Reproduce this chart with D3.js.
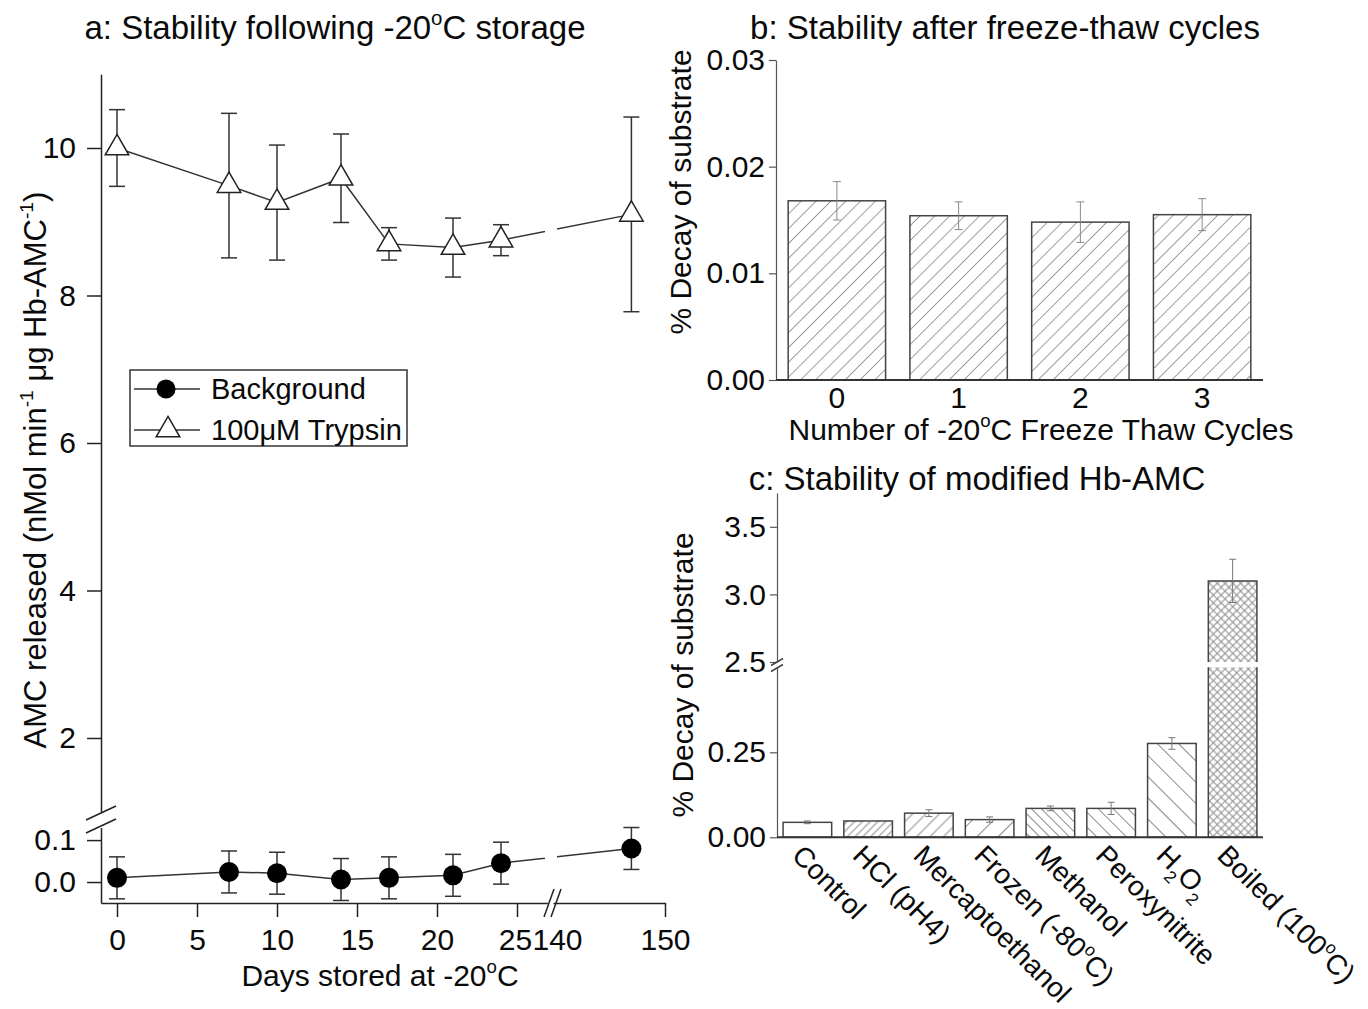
<!DOCTYPE html>
<html>
<head>
<meta charset="utf-8">
<script src="https://cdn.jsdelivr.net/npm/d3@7"></script>
<style>
  body { margin: 0; background: #fff; }
  svg { display: block; font-family: "Liberation Sans", Arial, Helvetica, sans-serif; }
</style>
</head>
<body>
<svg id="chart" width="1368" height="1009"></svg>
<script>
// ---- Panel a: activity after storage at -20 °C ----
const days = [0, 7, 10, 14, 17, 21, 24, 147];
const trypsinMean = [10.0, 9.49, 9.26, 9.59, 8.70, 8.65, 8.75, 9.10];
const trypsinErr = [0.52, 0.98, 0.78, 0.60, 0.22, 0.40, 0.21, 1.32];
const backgroundMean = [0.010, 0.024, 0.021, 0.006, 0.010, 0.016, 0.045, 0.080];
const backgroundErr = [0.050, 0.050, 0.050, 0.050, 0.050, 0.050, 0.050, 0.050];
const dayTicksLeft = [0, 5, 10, 15, 20, 25];
const dayTicksRight = [140, 150];
const amcTicksUpper = [2, 4, 6, 8, 10];
const amcTicksLower = [0.0, 0.1];
const seriesNames = ["Background", "100\u03BCM Trypsin"];

// ---- Panel b: freeze-thaw cycles ----
const cycles = ["0", "1", "2", "3"];
const cycleDecay = [0.0168, 0.0154, 0.0148, 0.0155];
const cycleErr = [0.0018, 0.0013, 0.0019, 0.0015];
const cycleTicks = [0, 0.01, 0.02, 0.03];

// ---- Panel c: modified substrate ----
const treatments = ["Control", "HCl (pH4)", "Mercaptoethanol", "Frozen (-80^oC)",
                    "Methanol", "Peroxynitrite", "H_2O_2", "Boiled (100^oC)"];
const treatmentDecay = [0.044, 0.048, 0.071, 0.052, 0.085, 0.085, 0.276, 3.10];
const treatmentErr = [0.004, 0.001, 0.010, 0.008, 0.007, 0.018, 0.017, 0.16];
const decayTicksLower = [0, 0.25];
const decayTicksUpper = [2.5, 3.0, 3.5];

// hatch style per treatment bar
const treatmentHatch = [
  null,
  { angle: 45, gap: 5.5 },
  { angle: 45, gap: 9.5 },
  { angle: 45, gap: 15 },
  { angle: -45, gap: 7 },
  { angle: -45, gap: 10.5 },
  { angle: -45, gap: 15 },
  { angle: 45, gap: 5.5, cross: true }
];

const svg = d3.select("#chart");
const defs = svg.append("defs");
const INK = "#0a0a0a";
const FS = 30;

// text with ^x / _x (or ^{..} / _{..}) super- and subscripts
function rich(sel, str, size) {
  const re = /([\^_])(\{[^}]*\}|.)/g;
  let last = 0, m, off = 0;
  const parts = [];
  while ((m = re.exec(str))) {
    if (m.index > last) parts.push({ t: str.slice(last, m.index), k: 0 });
    let c = m[2];
    if (c[0] === "{") c = c.slice(1, -1);
    parts.push({ t: c, k: m[1] === "^" ? 1 : -1 });
    last = re.lastIndex;
  }
  if (last < str.length) parts.push({ t: str.slice(last), k: 0 });
  parts.forEach(p => {
    const target = p.k === 1 ? -0.42 * size : p.k === -1 ? 0.33 * size : 0;
    const ts = sel.append("tspan").attr("dy", target - off).text(p.t);
    if (p.k) ts.attr("font-size", size * 0.62);
    off = target;
  });
  return sel;
}

function label(g, x, y, str, size, anchor, rotate) {
  const t = g.append("text")
    .attr("transform", `translate(${x},${y})` + (rotate ? ` rotate(${rotate})` : ""))
    .attr("font-size", size).attr("fill", INK)
    .attr("text-anchor", anchor || "middle");
  return rich(t, str, size);
}

function styleAxis(g, color, width, size) {
  g.select(".domain").attr("stroke", color).attr("stroke-width", width);
  g.selectAll(".tick line").attr("stroke", color).attr("stroke-width", width);
  g.selectAll(".tick text").attr("font-size", size).attr("fill", INK)
    .attr("font-family", null);
  g.attr("font-family", null);
}

function hatch(id, spec, color) {
  const p = defs.append("pattern").attr("id", id)
    .attr("patternUnits", "userSpaceOnUse")
    .attr("width", spec.gap).attr("height", spec.gap)
    .attr("patternTransform", `rotate(${spec.angle})`);
  p.append("rect").attr("width", spec.gap).attr("height", spec.gap).attr("fill", "#fff");
  p.append("line").attr("x1", spec.gap / 2).attr("x2", spec.gap / 2)
    .attr("y1", 0).attr("y2", spec.gap).attr("stroke", color).attr("stroke-width", 1);
  if (spec.cross) {
    p.append("line").attr("y1", spec.gap / 2).attr("y2", spec.gap / 2)
      .attr("x1", 0).attr("x2", spec.gap).attr("stroke", color).attr("stroke-width", 1);
  }
}

function breakMarks(g, pts, dx, dy, color) {
  pts.forEach(([cx, cy]) => {
    g.append("line").attr("x1", cx - dx).attr("y1", cy + dy)
      .attr("x2", cx + dx).attr("y2", cy - dy)
      .attr("stroke", color).attr("stroke-width", 1.5);
  });
}

// vertical error bars with caps; lo/hi are pixel positions
function errorBars(g, xs, lo, hi, cap, color, width) {
  xs.forEach((x, i) => {
    const y0 = lo[i], y1 = hi[i];
    g.append("line").attr("x1", x).attr("x2", x).attr("y1", y0).attr("y2", y1)
      .attr("stroke", color).attr("stroke-width", width);
    [y0, y1].forEach(y => g.append("line").attr("x1", x - cap / 2).attr("x2", x + cap / 2)
      .attr("y1", y).attr("y2", y).attr("stroke", color).attr("stroke-width", width));
  });
}

// =================== Panel a ===================
const gA = svg.append("g");
const AX = 101, AY = 903;
const xA1 = d3.scaleLinear().domain([-1, 26.9]).range([AX, 547.4]);
const xA2 = d3.scaleLinear().domain([140, 150]).range([553, 665]);
const xA = d => (d < 100 ? xA1(d) : xA2(d));
const yUp = d3.scaleLinear().domain([1, 11]).range([811.75, 74.25]);
const yLo = d3.scaleLinear().domain([-0.05, 0.13]).range([AY, 827.5]);

const aColor = "#222";
const ayU = gA.append("g").attr("transform", `translate(${AX},0)`)
  .call(d3.axisLeft(yUp).tickValues(amcTicksUpper).tickSize(14).tickSizeOuter(0)
    .tickPadding(11).tickFormat(d3.format("d")));
styleAxis(ayU, aColor, 1.5, FS);
const ayL = gA.append("g").attr("transform", `translate(${AX},0)`)
  .call(d3.axisLeft(yLo).tickValues(amcTicksLower).tickSize(14).tickSizeOuter(0)
    .tickPadding(11).tickFormat(d3.format(".1f")));
styleAxis(ayL, aColor, 1.5, FS);

const ax1 = gA.append("g").attr("transform", `translate(0,${AY})`)
  .call(d3.axisBottom(xA1).tickValues(dayTicksLeft).tickSize(14).tickSizeOuter(0)
    .tickPadding(12));
styleAxis(ax1, aColor, 1.5, FS);
ax1.selectAll(".tick").filter(d => d === 25).select("text").attr("dx", -2);
const ax2 = gA.append("g").attr("transform", `translate(0,${AY})`)
  .call(d3.axisBottom(xA2).tickValues(dayTicksRight).tickSize(14).tickSizeOuter(0)
    .tickPadding(12));
styleAxis(ax2, aColor, 1.5, FS);
const t140 = ax2.selectAll(".tick").filter(d => d === 140);
t140.select("line").remove();
t140.select("text").attr("dx", 4);

breakMarks(gA, [[AX, 813], [AX, 826]], 15, 7, aColor);
breakMarks(gA, [[549, AY], [556, AY]], 5, 14, aColor);

// series lines, interrupted where the day axis is broken
const clipDefs = [["clipLeft", 0, 545], ["clipRight", 557, 1368]];
clipDefs.forEach(([id, x0, x1]) => {
  defs.append("clipPath").attr("id", id).append("rect")
    .attr("x", x0).attr("y", 0).attr("width", x1 - x0).attr("height", 1009);
});
const lineUp = d3.line().x((d, i) => xA(days[i])).y(d => yUp(d));
const lineLo = d3.line().x((d, i) => xA(days[i])).y(d => yLo(d));
clipDefs.forEach(([id]) => {
  gA.append("path").attr("clip-path", `url(#${id})`).attr("d", lineUp(trypsinMean))
    .attr("fill", "none").attr("stroke", "#333").attr("stroke-width", 1.5);
  gA.append("path").attr("clip-path", `url(#${id})`).attr("d", lineLo(backgroundMean))
    .attr("fill", "none").attr("stroke", "#333").attr("stroke-width", 1.5);
});

const dayX = days.map(d => xA(d));
errorBars(gA, dayX, trypsinMean.map((v, i) => yUp(v - trypsinErr[i])),
  trypsinMean.map((v, i) => yUp(v + trypsinErr[i])), 16, "#333", 1.5);
errorBars(gA, dayX, backgroundMean.map((v, i) => yLo(v - backgroundErr[i])),
  backgroundMean.map((v, i) => yLo(v + backgroundErr[i])), 16, "#333", 1.5);

const tri = d3.symbol(d3.symbolTriangle, 240)();
gA.selectAll(".tri").data(trypsinMean).join("path")
  .attr("d", tri)
  .attr("transform", (d, i) => `translate(${dayX[i]},${yUp(d)})`)
  .attr("fill", "#fff").attr("stroke", "#222").attr("stroke-width", 1.5);
gA.selectAll(".dot").data(backgroundMean).join("circle")
  .attr("cx", (d, i) => dayX[i]).attr("cy", d => yLo(d)).attr("r", 10)
  .attr("fill", "#000");

// legend
const lg = gA.append("g");
lg.append("rect").attr("x", 130).attr("y", 370).attr("width", 277).attr("height", 76)
  .attr("fill", "#fff").attr("stroke", "#333").attr("stroke-width", 1.5);
[389, 430].forEach((y, i) => {
  lg.append("line").attr("x1", 134).attr("x2", 200).attr("y1", y).attr("y2", y)
    .attr("stroke", "#333").attr("stroke-width", 1.5);
  if (i === 0) {
    lg.append("circle").attr("cx", 166).attr("cy", y).attr("r", 9.5).attr("fill", "#000");
  } else {
    lg.append("path").attr("d", tri).attr("transform", `translate(168,${y})`)
      .attr("fill", "#fff").attr("stroke", "#222").attr("stroke-width", 1.5);
  }
  lg.append("text").attr("x", 211).attr("y", y + 10).attr("font-size", 29)
    .attr("fill", INK).text(seriesNames[i]);
});

label(gA, 335, 39, "a: Stability following -20^oC storage", 33);
label(gA, 380, 986, "Days stored at -20^oC", FS);
label(gA, 46, 470, "AMC released (nMol min^{-1}  \u03BCg Hb-AMC^{-1})", 31, "middle", -90);

// =================== Panel b ===================
const gB = svg.append("g");
const BX = 776, BY = 380;
const xB = d3.scaleBand().domain(cycles).range([BX, 1263]).paddingInner(0.2).paddingOuter(0.1);
const yB = d3.scaleLinear().domain([0, 0.03]).range([BY, 60]);
hatch("hatchB", { angle: 45, gap: 10.5 }, "#9a9a9a");

gB.selectAll(".bar").data(cycleDecay).join("rect")
  .attr("x", (d, i) => xB(cycles[i])).attr("width", xB.bandwidth())
  .attr("y", d => yB(d)).attr("height", d => BY - yB(d))
  .attr("fill", "url(#hatchB)").attr("stroke", "#444").attr("stroke-width", 1.5);
errorBars(gB, cycles.map(c => xB(c) + xB.bandwidth() / 2),
  cycleDecay.map((v, i) => yB(v - cycleErr[i])),
  cycleDecay.map((v, i) => yB(v + cycleErr[i])), 8, "#888", 1);

const byAx = gB.append("g").attr("transform", `translate(${BX},0)`)
  .call(d3.axisLeft(yB).tickValues(cycleTicks).tickSize(7).tickSizeOuter(0)
    .tickPadding(4).tickFormat(d3.format(".2f")));
styleAxis(byAx, "#555", 1.2, FS);
gB.append("line").attr("x1", BX).attr("x2", 1263).attr("y1", BY).attr("y2", BY)
  .attr("stroke", "#333").attr("stroke-width", 2);
cycles.forEach(c => {
  gB.append("text").attr("x", xB(c) + xB.bandwidth() / 2).attr("y", 408)
    .attr("text-anchor", "middle").attr("font-size", FS).attr("fill", INK).text(c);
});

label(gB, 1005, 39, "b: Stability after freeze-thaw cycles", 33);
label(gB, 1041, 440, "Number of -20^oC Freeze Thaw Cycles", FS);
label(gB, 691, 192, "% Decay of substrate", FS, "middle", -90);

// =================== Panel c ===================
const gC = svg.append("g");
const CX = 777, CY = 837.3;
const xC = d3.scaleBand().domain(treatments).range([CX, 1263]).paddingInner(0.2).paddingOuter(0.1);
const yCLo = d3.scaleLinear().domain([0, 0.5]).range([CY, 667.3]);
const yCUp = d3.scaleLinear().domain([2.5, 3.75]).range([662, 493]);
const LOW_MAX = yCLo.domain()[1];
const yC = v => (v <= LOW_MAX ? yCLo(v) : yCUp(v));

treatmentHatch.forEach((h, i) => { if (h) hatch("hatchC" + i, h, "#8a8a8a"); });
const fillC = i => (treatmentHatch[i] ? `url(#hatchC${i})` : "#fff");

treatmentDecay.forEach((v, i) => {
  const x = xC(treatments[i]), w = xC.bandwidth();
  if (v <= LOW_MAX) {
    gC.append("rect").attr("x", x).attr("width", w).attr("y", yCLo(v))
      .attr("height", CY - yCLo(v)).attr("fill", fillC(i))
      .attr("stroke", "#444").attr("stroke-width", 1.5);
  } else {
    const upBase = yCUp(yCUp.domain()[0]);
    gC.append("rect").attr("x", x).attr("width", w).attr("y", yCUp(v))
      .attr("height", upBase - yCUp(v)).attr("fill", fillC(i));
    gC.append("rect").attr("x", x).attr("width", w).attr("y", yCLo(LOW_MAX))
      .attr("height", CY - yCLo(LOW_MAX)).attr("fill", fillC(i));
    gC.append("path")
      .attr("d", `M${x},${upBase}V${yCUp(v)}H${x + w}V${upBase}` +
                 `M${x},${yCLo(LOW_MAX)}V${CY}H${x + w}V${yCLo(LOW_MAX)}`)
      .attr("fill", "none").attr("stroke", "#444").attr("stroke-width", 1.5);
  }
});
errorBars(gC, treatments.map(t => xC(t) + xC.bandwidth() / 2),
  treatmentDecay.map((v, i) => yC(v - treatmentErr[i])),
  treatmentDecay.map((v, i) => yC(v + treatmentErr[i])), 7, "#777", 1);

const cyL = gC.append("g").attr("transform", `translate(${CX},0)`)
  .call(d3.axisLeft(yCLo).tickValues(decayTicksLower).tickSize(7).tickSizeOuter(0)
    .tickPadding(4).tickFormat(d3.format(".2f")));
styleAxis(cyL, "#555", 1.2, FS);
const cyU = gC.append("g").attr("transform", `translate(${CX},0)`)
  .call(d3.axisLeft(yCUp).tickValues(decayTicksUpper).tickSize(7).tickSizeOuter(0)
    .tickPadding(4).tickFormat(d3.format(".1f")));
styleAxis(cyU, "#555", 1.2, FS);
breakMarks(gC, [[CX, 662], [CX, 668]], 6, 3.5, "#444");
gC.append("line").attr("x1", CX).attr("x2", 1263).attr("y1", CY).attr("y2", CY)
  .attr("stroke", "#333").attr("stroke-width", 2);

treatments.forEach(t => {
  label(gC, xC(t) + xC.bandwidth() / 2 - 17, 857, t, 28, "start", 45);
});

label(gC, 977, 490, "c: Stability of modified Hb-AMC", 33);
label(gC, 693, 675, "% Decay of substrate", FS, "middle", -90);
</script>
</body>
</html>
